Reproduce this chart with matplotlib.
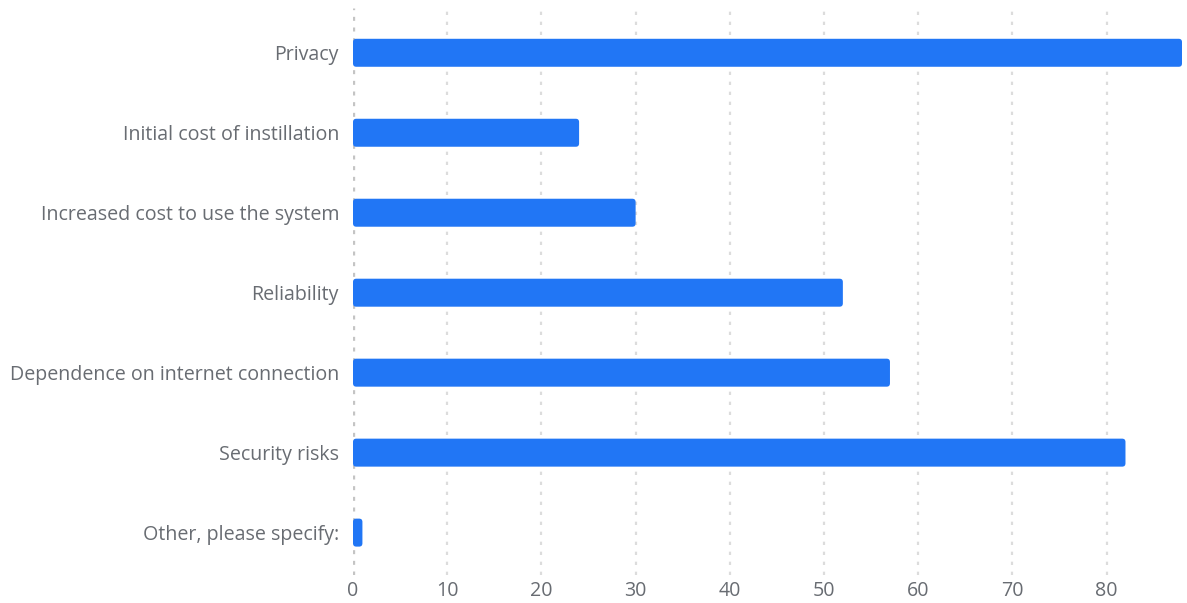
import matplotlib.pyplot as plt
from matplotlib.patches import FancyBboxPatch

plt.rcParams['font.family'] = ['Open Sans', 'DejaVu Sans']

categories = [
    "Privacy",
    "Initial cost of instillation",
    "Increased cost to use the system",
    "Reliability",
    "Dependence on internet connection",
    "Security risks",
    "Other, please specify:",
]
counts = [88, 24, 30, 52, 57, 82, 1]

bar_color = "#2176f5"
text_color = "#686c72"

fig = plt.figure(figsize=(11.87, 6.03), dpi=100)
# axes box: y from -0.56 (top) to 6.53 (bottom)
ax = fig.add_axes([353 / 1187, 1 - 575 / 603, (1182 - 353) / 1187, 567 / 603])

y = list(range(len(categories)))
bars = ax.barh(y, counts, height=0.35, color=bar_color)

# swap the plain rectangles for slightly rounded ones
for b in bars:
    x0, y0 = b.get_x(), b.get_y()
    w, h = b.get_width(), b.get_height()
    b.set_visible(False)
    ax.add_patch(FancyBboxPatch((x0, y0), w, h,
                                boxstyle="round,pad=0,rounding_size=0.35",
                                mutation_aspect=0.118,
                                facecolor=bar_color, edgecolor="none", zorder=3))

ax.set_xlim(0, 88)
ax.set_ylim(6.53, -0.56)
ax.set_xticks(range(0, 81, 10))
ax.set_yticks(y)
ax.set_yticklabels(categories)

for t in range(10, 81, 10):
    ax.axvline(t, color="#dcdcdc", linewidth=1.6, linestyle=(0, (1.5, 3)), zorder=1)
ax.axvline(0, color="#c4c4c4", linewidth=2.4, linestyle=(0, (1.2, 2)), zorder=1)

for s in ax.spines.values():
    s.set_visible(False)
ax.tick_params(axis="both", length=0, labelsize=14.1, colors=text_color)
ax.tick_params(axis="y", pad=10)
ax.tick_params(axis="x", pad=4)

fig.savefig("out.png", dpi=100)
